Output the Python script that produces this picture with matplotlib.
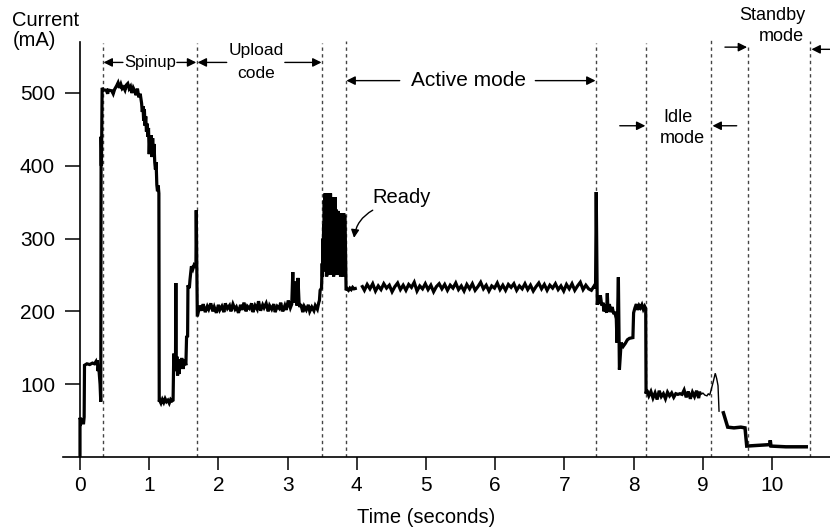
import numpy as np
import matplotlib
matplotlib.use("Agg")
import matplotlib.pyplot as plt

plt.rcParams['font.family'] = ['Liberation Sans', 'DejaVu Sans']

# ---- trace: (time s, current mA) ----
power_on = [(0.00, 0), (0.00, 54), (0.02, 48), (0.04, 52), (0.05, 45), (0.06, 55),
            (0.065, 126), (0.10, 128), (0.14, 127), (0.18, 129), (0.21, 128),
            (0.23, 131), (0.24, 127), (0.25, 133), (0.26, 118), (0.27, 125),
            (0.28, 112), (0.29, 100), (0.30, 76)]

spinup = [(0.305, 440), (0.31, 400), (0.32, 507), (0.34, 504), (0.38, 504), (0.40, 499),
          (0.41, 504), (0.46, 503), (0.48, 499), (0.50, 505), (0.53, 510), (0.55, 514),
          (0.57, 507), (0.59, 512), (0.61, 506), (0.63, 508), (0.65, 504), (0.67, 511),
          (0.69, 513), (0.71, 506), (0.73, 509), (0.75, 500), (0.77, 507), (0.79, 503),
          (0.81, 497), (0.83, 506), (0.85, 494), (0.87, 499), (0.89, 486), (0.90, 474),
          (0.91, 482), (0.92, 462), (0.93, 478), (0.94, 455), (0.95, 468), (0.96, 447),
          (0.97, 458), (0.98, 440), (0.99, 452), (1.00, 416), (1.01, 440), (1.02, 418),
          (1.03, 442), (1.04, 412), (1.05, 438), (1.06, 415), (1.07, 430), (1.08, 405),
          (1.09, 395), (1.10, 405), (1.11, 374), (1.12, 365), (1.13, 373), (1.14, 362),
          (1.145, 76),
          (1.15, 78), (1.17, 74), (1.19, 79), (1.21, 75), (1.23, 80), (1.25, 76),
          (1.27, 78), (1.29, 74), (1.31, 79), (1.33, 77), (1.345, 78), (1.355, 142),
          (1.365, 118), (1.38, 130), (1.385, 239), (1.39, 120), (1.40, 138), (1.41, 112),
          (1.42, 132), (1.43, 114), (1.44, 134), (1.45, 121), (1.47, 136), (1.49, 121),
          (1.51, 134), (1.53, 126), (1.54, 165), (1.555, 166), (1.56, 236), (1.58, 232),
          (1.59, 244), (1.61, 262), (1.63, 258), (1.65, 264), (1.675, 262), (1.68, 339),
          (1.695, 195)]

upload = [(1.70, 195), (1.73, 208), (1.76, 201), (1.78, 210), (1.81, 199), (1.84, 207),
          (1.86, 203), (1.89, 211), (1.92, 200), (1.94, 206), (1.97, 198), (2.00, 209),
          (2.02, 202), (2.05, 207), (2.08, 199), (2.10, 211), (2.13, 204), (2.16, 208),
          (2.18, 200), (2.21, 210), (2.24, 203), (2.26, 206), (2.29, 198), (2.32, 209),
          (2.34, 202), (2.37, 212), (2.40, 200), (2.42, 207), (2.45, 204), (2.48, 211),
          (2.50, 199), (2.53, 208), (2.56, 203), (2.58, 214), (2.61, 201), (2.64, 209),
          (2.66, 205), (2.69, 211), (2.72, 200), (2.74, 208), (2.77, 203), (2.80, 210),
          (2.82, 199), (2.85, 207), (2.88, 204), (2.90, 212), (2.93, 200), (2.96, 208),
          (2.98, 202), (3.01, 215), (3.04, 205), (3.06, 210), (3.075, 254), (3.085, 212),
          (3.10, 241), (3.11, 222), (3.125, 240), (3.135, 208), (3.15, 246), (3.165, 213),
          (3.175, 206), (3.19, 210), (3.22, 199), (3.24, 207), (3.27, 202), (3.30, 209),
          (3.32, 200), (3.35, 206), (3.38, 201), (3.40, 208), (3.43, 203), (3.45, 212)]

ready = [(3.46, 215), (3.47, 229), (3.49, 232), (3.50, 266), (3.505, 248), (3.51, 300),
         (3.515, 262), (3.52, 320), (3.525, 270), (3.53, 353), (3.535, 290), (3.54, 362),
         (3.545, 255), (3.55, 340), (3.555, 270), (3.56, 360), (3.565, 248), (3.57, 355),
         (3.575, 285), (3.58, 362), (3.585, 250), (3.59, 358), (3.595, 290), (3.60, 360),
         (3.605, 262), (3.61, 355), (3.615, 300), (3.62, 362), (3.625, 270), (3.63, 345),
         (3.635, 250), (3.64, 357), (3.645, 295), (3.65, 350), (3.655, 262), (3.66, 345),
         (3.665, 248), (3.67, 355), (3.675, 300), (3.68, 350), (3.685, 270), (3.69, 357),
         (3.695, 265), (3.70, 340), (3.705, 250), (3.71, 338), (3.715, 290), (3.72, 335),
         (3.725, 268), (3.73, 338), (3.735, 250), (3.74, 333), (3.745, 290), (3.75, 335),
         (3.755, 262), (3.76, 330), (3.765, 248), (3.77, 335), (3.775, 280), (3.78, 332),
         (3.785, 260), (3.79, 335), (3.795, 290), (3.80, 330), (3.805, 248), (3.81, 335),
         (3.815, 282), (3.82, 332), (3.83, 330), (3.845, 229), (3.86, 231), (3.88, 229),
         (3.90, 232), (3.92, 230), (3.94, 233), (3.96, 231), (4.00, 232)]

active = [(4.07, 236), (4.11, 229), (4.15, 237), (4.19, 231), (4.23, 238), (4.27, 228),
          (4.31, 235), (4.35, 230), (4.39, 238), (4.43, 232), (4.47, 236), (4.51, 227),
          (4.55, 234), (4.59, 239), (4.63, 230), (4.67, 236), (4.71, 229), (4.75, 237),
          (4.79, 233), (4.83, 240), (4.87, 228), (4.91, 235), (4.95, 231), (4.99, 238),
          (5.03, 230), (5.07, 236), (5.11, 227), (5.15, 234), (5.19, 238), (5.23, 231),
          (5.27, 237), (5.31, 229), (5.35, 236), (5.39, 232), (5.43, 239), (5.47, 230),
          (5.51, 235), (5.55, 228), (5.59, 237), (5.63, 231), (5.67, 238), (5.71, 229),
          (5.75, 234), (5.79, 240), (5.83, 231), (5.87, 236), (5.91, 228), (5.95, 235),
          (5.99, 232), (6.03, 239), (6.07, 230), (6.11, 236), (6.15, 229), (6.19, 237),
          (6.23, 233), (6.27, 238), (6.31, 229), (6.35, 235), (6.39, 231), (6.43, 238),
          (6.47, 230), (6.51, 236), (6.55, 228), (6.59, 234), (6.63, 239), (6.67, 231),
          (6.71, 237), (6.75, 229), (6.79, 236), (6.83, 232), (6.87, 238), (6.91, 230),
          (6.95, 235), (6.99, 228), (7.03, 237), (7.07, 231), (7.11, 238), (7.15, 229),
          (7.19, 235), (7.23, 240), (7.27, 230), (7.31, 236), (7.35, 231), (7.39, 229),
          (7.43, 235), (7.45, 232)]

wind_down = [(7.46, 364), (7.475, 209), (7.49, 220), (7.50, 210), (7.52, 222), (7.54, 208),
             (7.56, 212), (7.57, 200), (7.59, 209), (7.61, 198), (7.62, 225), (7.63, 200),
             (7.65, 210), (7.67, 199), (7.69, 206), (7.71, 198), (7.73, 198), (7.75, 190),
             (7.76, 157), (7.78, 247), (7.795, 120), (7.82, 157), (7.85, 152), (7.88, 156),
             (7.91, 161), (7.94, 163), (7.99, 164), (8.00, 198), (8.02, 205), (8.04, 210),
             (8.06, 202), (8.08, 208), (8.10, 205), (8.12, 209), (8.14, 203), (8.16, 207),
             (8.175, 204)]

idle = [(8.18, 87), (8.19, 92), (8.22, 84), (8.25, 90), (8.28, 81), (8.31, 88), (8.34, 79),
        (8.37, 91), (8.40, 83), (8.43, 87), (8.46, 80), (8.49, 89), (8.52, 84), (8.55, 88),
        (8.58, 82), (8.61, 87), (8.64, 86), (8.67, 87), (8.70, 86), (8.73, 92), (8.76, 82),
        (8.79, 90), (8.82, 80), (8.85, 89), (8.88, 83), (8.91, 91), (8.94, 81), (8.96, 90)]

idle_tail = [(8.96, 90), (8.98, 86), (9.00, 88), (9.03, 85), (9.06, 84), (9.08, 87),
             (9.10, 85), (9.12, 92), (9.15, 103), (9.18, 115), (9.20, 108), (9.22, 98),
             (9.235, 62)]

standby = [(9.29, 63), (9.30, 60), (9.36, 41), (9.45, 40), (9.55, 41), (9.61, 40),
           (9.635, 15), (9.80, 16), (9.97, 17), (9.975, 23), (9.985, 15), (10.20, 14),
           (10.52, 14)]

# mode boundaries (dashed) and how high each dashed line reaches
bounds_t = [0.33, 1.69, 3.50, 3.84, 7.46, 8.18, 9.12, 9.65, 10.55]
bounds_top = [569, 569, 569, 571, 569, 569, 576, 564, 571]

y_ticks = [100, 200, 300, 400, 500]
x_ticks = list(range(0, 11))

# ---- figure, axes placed so that data maps like the reference ----
W, H = 830, 531
fig = plt.figure(figsize=(W / 100, H / 100), dpi=100)
xlim = (-0.245, 10.84)
ylim = (0, 580)
px_per_s = 69.2
px_per_ma = 0.728
left = (80 + xlim[0] * px_per_s) / W
bottom = (H - 457) / H
ax = fig.add_axes([left, bottom, (xlim[1] - xlim[0]) * px_per_s / W,
                   (ylim[1] - ylim[0]) * px_per_ma / H])
ax.set_xlim(*xlim)
ax.set_ylim(*ylim)


def draw(seg, lw):
    a = np.array(seg, dtype=float)
    ax.plot(a[:, 0], a[:, 1], color='black', lw=lw, solid_joinstyle='miter',
            solid_capstyle='butt', zorder=3)


draw(power_on + spinup + upload + ready, 2.3)
draw(active + wind_down + idle, 2.3)
draw(idle_tail, 1.0)
draw(standby, 2.5)

for t, top in zip(bounds_t, bounds_top):
    ax.plot([t, t], [0, top], color='#444444', lw=1.0, dashes=(2.4, 2.4), zorder=2)

# spines / ticks
for s in ['top', 'right']:
    ax.spines[s].set_visible(False)
ax.spines['left'].set_position(('data', 0))
ax.spines['left'].set_bounds(0, 570)
ax.spines['left'].set_linewidth(1.2)
ax.spines['bottom'].set_linewidth(1.2)
ax.set_xticks(x_ticks)
ax.set_yticks(y_ticks)
ax.tick_params(axis='x', direction='out', length=9, width=1.1, pad=5, labelsize=15)
ax.tick_params(axis='y', direction='out', length=10.5, width=1.1, pad=7.5, labelsize=15)

ax.text(5.0, -83, 'Time (seconds)', ha='center', va='center', fontsize=14.5)
ax.text(-0.985, 600, 'Current', ha='left', va='center', fontsize=14.5)
ax.text(-0.97, 572, '(mA)', ha='left', va='center', fontsize=14.5)


def arrow(x0, x1, y):
    ax.annotate('', xy=(x1, y), xytext=(x0, y),
                arrowprops=dict(arrowstyle='-|>', lw=1.0, color='black',
                                mutation_scale=13, shrinkA=0, shrinkB=0))


# Spinup
ax.text(1.01, 542, 'Spinup', ha='center', va='center', fontsize=12)
arrow(0.62, 0.34, 542)
arrow(1.40, 1.68, 542)
# Upload code
ax.text(2.54, 558, 'Upload', ha='center', va='center', fontsize=12.5)
ax.text(2.54, 527, 'code', ha='center', va='center', fontsize=12.5)
arrow(2.12, 1.70, 542)
arrow(2.96, 3.49, 542)
# Active mode
ax.text(5.61, 517, 'Active mode', ha='center', va='center', fontsize=15)
arrow(4.62, 3.85, 517)
arrow(6.58, 7.45, 517)
# Idle mode
ax.text(8.64, 467, 'Idle', ha='center', va='center', fontsize=13)
ax.text(8.70, 437, 'mode', ha='center', va='center', fontsize=13)
arrow(7.80, 8.17, 455)
arrow(9.49, 9.14, 455)
# Standby mode
ax.text(10.0, 606, 'Standby', ha='center', va='center', fontsize=13)
ax.text(10.14, 577, 'mode', ha='center', va='center', fontsize=13)
arrow(9.32, 9.64, 563)
arrow(10.84, 10.57, 560)
# Ready
ax.text(4.65, 357, 'Ready', ha='center', va='center', fontsize=14.5)
ax.annotate('', xy=(3.96, 301), xytext=(4.23, 339),
            arrowprops=dict(arrowstyle='-|>', lw=1.0, color='black', mutation_scale=12,
                            shrinkA=0, shrinkB=0, connectionstyle='arc3,rad=0.25'))

fig.savefig('out.png', dpi=100)
